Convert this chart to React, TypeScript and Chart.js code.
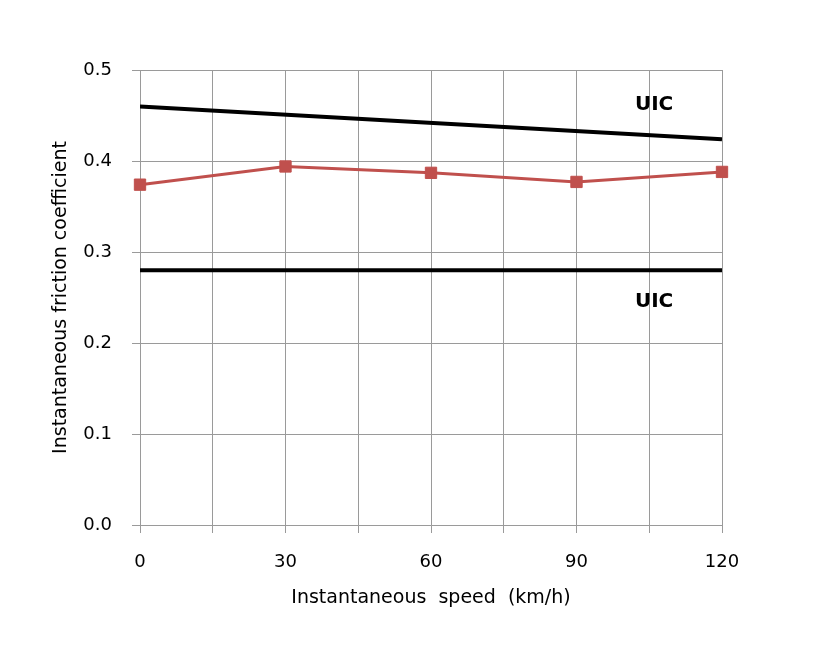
import React, { useEffect, useRef } from 'react';
import { Chart, registerables } from 'chart.js';

Chart.register(...registerables);

const speeds = [0, 30, 60, 90, 120];
const measured = [0.374, 0.394, 0.387, 0.377, 0.388];
const uicUpperX = [0, 120];
const uicUpperY = [0.46, 0.424];
const uicLowerX = [0, 120];
const uicLowerY = [0.28, 0.28];
const uicLabelText = ['UIC', 'UIC'];
const uicLabelX = [106, 106];
const uicLabelY = [0.4615, 0.245];
const xTitle = 'Instantaneous  speed  (km/h)';
const yTitle = 'Instantaneous friction coefficient';

const W = 832;
const H = 651;
const FONT = "'DejaVu Sans', sans-serif";
const GRID = '#9a9a9a';

const labelPlugin = {
  id: 'uicLabels',
  afterDatasetsDraw(chart: any) {
    const { ctx, scales } = chart;
    ctx.save();
    ctx.font = `bold 20px ${FONT}`;
    ctx.fillStyle = '#000';
    ctx.textAlign = 'center';
    ctx.textBaseline = 'middle';
    uicLabelText.forEach((t, i) => {
      ctx.fillText(t, scales.x.getPixelForValue(uicLabelX[i]), scales.y.getPixelForValue(uicLabelY[i]));
    });
    ctx.restore();
  },
};

export default function App() {
  const ref = useRef<HTMLCanvasElement>(null);
  useEffect(() => {
    if (!ref.current) return;
    const chart = new Chart(ref.current, {
      type: 'line',
      data: {
        datasets: [
          {
            data: uicUpperX.map((x, i) => ({ x, y: uicUpperY[i] })),
            borderColor: '#000',
            borderWidth: 4,
            pointRadius: 0,
          },
          {
            data: uicLowerX.map((x, i) => ({ x, y: uicLowerY[i] })),
            borderColor: '#000',
            borderWidth: 4,
            pointRadius: 0,
          },
          {
            data: speeds.map((x, i) => ({ x, y: measured[i] })),
            borderColor: '#C0504D',
            backgroundColor: '#C0504D',
            borderWidth: 3,
            pointStyle: 'rect',
            pointRadius: 8,
            pointBorderWidth: 1,
            pointBackgroundColor: '#C0504D',
            pointBorderColor: '#C0504D',
            clip: false,
          },
        ],
      },
      options: {
        responsive: false,
        animation: false,
        layout: { padding: { top: 70, right: 110, left: 0, bottom: 0 } },
        plugins: { legend: { display: false }, tooltip: { enabled: false }, title: { display: false } },
        scales: {
          x: {
            type: 'linear',
            min: 0,
            max: 120,
            afterFit: (s: any) => { s.height = H - 525; },
            grid: { color: GRID, tickLength: 8, lineWidth: 1 },
            border: { color: GRID },
            ticks: {
              stepSize: 15,
              autoSkip: false,
              maxRotation: 0,
              padding: 19,
              color: '#000',
              font: { family: FONT, size: 18 },
              callback: (v: any) => (Number(v) % 30 === 0 ? String(v) : ''),
            },
            title: {
              display: true,
              text: xTitle,
              color: '#000',
              font: { family: FONT, size: 19 },
              padding: { top: 0, bottom: 42 },
            },
          },
          y: {
            min: 0,
            max: 0.5,
            afterFit: (s: any) => { s.width = 140; },
            grid: { color: GRID, tickLength: 8, lineWidth: 1 },
            border: { color: GRID },
            ticks: {
              stepSize: 0.1,
              padding: 20,
              color: '#000',
              font: { family: FONT, size: 18 },
              callback: (v: any) => Number(v).toFixed(1),
            },
            title: {
              display: true,
              text: yTitle,
              color: '#000',
              font: { family: FONT, size: 19 },
              padding: { top: 50, bottom: 0 },
            },
          },
        },
      },
      plugins: [labelPlugin],
    } as any);
    return () => chart.destroy();
  }, []);
  return (
    <div style={{ position: 'fixed', left: 0, top: 0, width: W, height: H, background: '#fff' }}>
      <canvas ref={ref} width={W} height={H} />
    </div>
  );
}
